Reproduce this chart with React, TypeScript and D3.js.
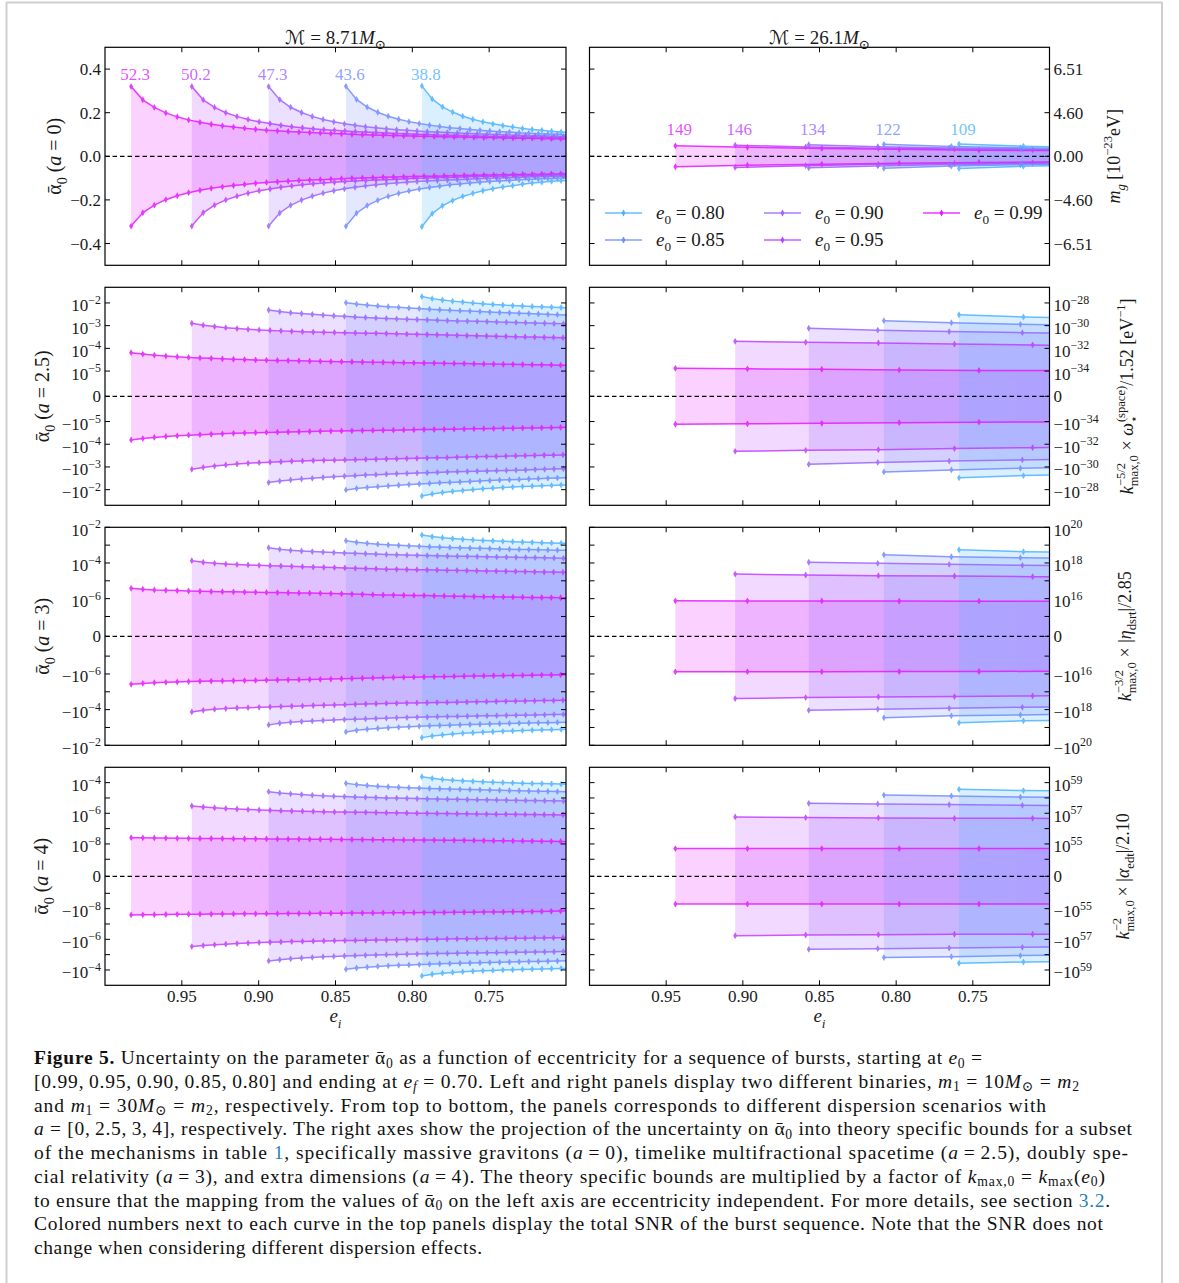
import React from 'react';
import * as d3 from 'd3';

const W = 1179, H = 1283;
const FONT = "'Liberation Serif','DejaVu Serif','DejaVu Sans',serif";
const INK = '#1a1a1a';

// ---------- categories / styling keys ----------
const E0_LABELS = ['0.99', '0.95', '0.90', '0.85', '0.80'];
const CURVE_COLORS = ['#e61aff', '#bf40ff', '#9966ff', '#738cff', '#4db3ff'];
const SNR_LEFT = ['52.3', '50.2', '47.3', '43.6', '38.8'];
const SNR_RIGHT = ['149', '146', '134', '122', '109'];
const X_TICKS = [0.95, 0.9, 0.85, 0.8, 0.75];
const X_TICK_LABELS = ['0.95', '0.90', '0.85', '0.80', '0.75'];

// ---------- eccentricities of the bursts (left binary) ----------
const eL099 = [0.9830, 0.9754, 0.9679, 0.9604, 0.9530, 0.9456, 0.9382, 0.9309, 0.9236, 0.9164, 0.9092, 0.9020, 0.8949, 0.8878, 0.8808, 0.8738, 0.8668, 0.8599, 0.8530, 0.8461, 0.8393, 0.8325, 0.8257, 0.8190, 0.8123, 0.8056, 0.7990, 0.7924, 0.7858, 0.7793, 0.7728, 0.7663, 0.7599, 0.7535, 0.7471, 0.7408, 0.7345, 0.7282, 0.7220, 0.7158, 0.7096, 0.7035, 0.6974];
const eL095 = [0.9435, 0.9361, 0.9287, 0.9214, 0.9141, 0.9069, 0.8997, 0.8926, 0.8855, 0.8785, 0.8715, 0.8645, 0.8576, 0.8507, 0.8439, 0.8371, 0.8303, 0.8236, 0.8169, 0.8102, 0.8036, 0.7970, 0.7904, 0.7839, 0.7774, 0.7709, 0.7645, 0.7581, 0.7517, 0.7454, 0.7391, 0.7328, 0.7266, 0.7204, 0.7142, 0.7081, 0.7020, 0.6959];
const eL090 = [0.8935, 0.8863, 0.8792, 0.8721, 0.8651, 0.8581, 0.8511, 0.8442, 0.8373, 0.8305, 0.8237, 0.8169, 0.8102, 0.8035, 0.7969, 0.7903, 0.7837, 0.7772, 0.7707, 0.7642, 0.7578, 0.7514, 0.7451, 0.7388, 0.7325, 0.7263, 0.7201, 0.7139, 0.7078, 0.7017, 0.6956];
const eL085 = [0.8432, 0.8363, 0.8294, 0.8225, 0.8157, 0.8089, 0.8022, 0.7955, 0.7888, 0.7822, 0.7756, 0.7690, 0.7625, 0.7560, 0.7496, 0.7432, 0.7368, 0.7305, 0.7242, 0.7180, 0.7118, 0.7056, 0.6995];
const eL080 = [0.7938, 0.7871, 0.7804, 0.7738, 0.7672, 0.7606, 0.7541, 0.7476, 0.7411, 0.7347, 0.7283, 0.7220, 0.7157, 0.7094, 0.7032, 0.6970];

// ---------- eccentricities of the bursts (right binary) ----------
const eR099 = [0.944, 0.897, 0.8485, 0.798, 0.746, 0.692];
const eR095 = [0.905, 0.859, 0.8116, 0.762, 0.711, 0.658];
const eR090 = [0.857, 0.812, 0.7654, 0.7177, 0.668];
const eR085 = [0.808, 0.764, 0.719, 0.672];
const eR080 = [0.759, 0.717, 0.673];

// ---------- a = 0 : 1-sigma on alpha0 (linear) ----------
const sA0L099 = [0.320, 0.259, 0.224, 0.199, 0.181, 0.167, 0.156, 0.147, 0.140, 0.134, 0.129, 0.124, 0.120, 0.117, 0.114, 0.111, 0.109, 0.107, 0.105, 0.103, 0.101, 0.099, 0.098, 0.096, 0.095, 0.094, 0.093, 0.092, 0.091, 0.090, 0.089, 0.088, 0.087, 0.086, 0.086, 0.085, 0.084, 0.083, 0.083, 0.082, 0.081, 0.081, 0.080];
const sA0L095 = [0.320, 0.259, 0.224, 0.200, 0.183, 0.169, 0.158, 0.150, 0.142, 0.136, 0.131, 0.126, 0.122, 0.119, 0.116, 0.113, 0.111, 0.109, 0.107, 0.105, 0.103, 0.101, 0.100, 0.098, 0.097, 0.096, 0.094, 0.093, 0.092, 0.091, 0.090, 0.089, 0.088, 0.088, 0.087, 0.086, 0.086, 0.085];
const sA0L090 = [0.320, 0.260, 0.225, 0.201, 0.183, 0.169, 0.158, 0.149, 0.142, 0.136, 0.131, 0.126, 0.122, 0.119, 0.116, 0.113, 0.111, 0.109, 0.107, 0.105, 0.103, 0.101, 0.100, 0.098, 0.097, 0.095, 0.094, 0.093, 0.092, 0.091, 0.090];
const sA0L085 = [0.321, 0.261, 0.226, 0.202, 0.184, 0.170, 0.159, 0.150, 0.143, 0.137, 0.131, 0.127, 0.123, 0.119, 0.116, 0.113, 0.111, 0.108, 0.106, 0.104, 0.102, 0.101, 0.099];
const sA0L080 = [0.323, 0.263, 0.227, 0.203, 0.184, 0.170, 0.158, 0.149, 0.141, 0.135, 0.128, 0.123, 0.119, 0.115, 0.112, 0.109];
const sA0R099 = [0.048, 0.041, 0.036, 0.032, 0.028, 0.026];
const sA0R095 = [0.051, 0.043, 0.037, 0.033, 0.030, 0.027];
const sA0R090 = [0.053, 0.044, 0.038, 0.034, 0.031];
const sA0R085 = [0.055, 0.045, 0.039, 0.035];
const sA0R080 = [0.056, 0.046, 0.040];

// ---------- a = 2.5 : log10 of 1-sigma ----------
const lgA25L099 = [-4.19, -4.25, -4.30, -4.34, -4.37, -4.40, -4.42, -4.44, -4.46, -4.48, -4.495, -4.51, -4.52, -4.53, -4.54, -4.55, -4.56, -4.57, -4.58, -4.585, -4.59, -4.60, -4.61, -4.615, -4.62, -4.63, -4.635, -4.645, -4.65, -4.66, -4.665, -4.67, -4.68, -4.685, -4.69, -4.70, -4.705, -4.71, -4.72, -4.725, -4.73, -4.74, -4.745];
const lgA25L095 = [-2.895, -2.98, -3.04, -3.09, -3.13, -3.16, -3.19, -3.21, -3.23, -3.25, -3.265, -3.28, -3.29, -3.30, -3.31, -3.32, -3.33, -3.34, -3.35, -3.36, -3.37, -3.38, -3.39, -3.40, -3.41, -3.425, -3.435, -3.445, -3.455, -3.465, -3.475, -3.485, -3.495, -3.505, -3.515, -3.52, -3.53, -3.54];
const lgA25L090 = [-2.31, -2.38, -2.43, -2.47, -2.50, -2.535, -2.565, -2.59, -2.615, -2.64, -2.66, -2.68, -2.70, -2.715, -2.73, -2.745, -2.76, -2.775, -2.79, -2.80, -2.81, -2.82, -2.835, -2.845, -2.86, -2.87, -2.885, -2.895, -2.91, -2.92, -2.93];
const lgA25L085 = [-1.99, -2.05, -2.09, -2.13, -2.165, -2.195, -2.225, -2.25, -2.275, -2.30, -2.32, -2.34, -2.36, -2.38, -2.40, -2.42, -2.435, -2.45, -2.47, -2.485, -2.50, -2.515, -2.53];
const lgA25L080 = [-1.72, -1.81, -1.87, -1.92, -1.96, -2.00, -2.035, -2.065, -2.09, -2.115, -2.135, -2.155, -2.17, -2.185, -2.20, -2.215];
const lgA25R099 = [-4.88, -4.90, -4.92, -4.95, -4.97, -4.98];
const lgA25R095 = [-3.69, -3.73, -3.76, -3.81, -3.85, -3.89];
const lgA25R090 = [-3.115, -3.20, -3.26, -3.31, -3.35];
const lgA25R085 = [-2.78, -2.87, -2.94, -2.99];
const lgA25R080 = [-2.52, -2.62, -2.68];

// ---------- a = 3 : log10 of 1-sigma ----------
const lgA3L099 = [-5.42, -5.47, -5.51, -5.53, -5.55, -5.57, -5.585, -5.60, -5.61, -5.62, -5.63, -5.64, -5.65, -5.66, -5.67, -5.68, -5.69, -5.70, -5.715, -5.73, -5.745, -5.76, -5.775, -5.79, -5.80, -5.81, -5.82, -5.83, -5.84, -5.85, -5.86, -5.87, -5.88, -5.89, -5.90, -5.905, -5.91, -5.92, -5.93, -5.935, -5.94, -5.95, -5.955];
const lgA3L095 = [-3.87, -3.96, -4.02, -4.06, -4.09, -4.11, -4.13, -4.15, -4.17, -4.19, -4.21, -4.23, -4.245, -4.26, -4.28, -4.30, -4.315, -4.33, -4.345, -4.355, -4.365, -4.375, -4.385, -4.395, -4.405, -4.415, -4.425, -4.435, -4.445, -4.455, -4.465, -4.475, -4.485, -4.495, -4.505, -4.51, -4.52, -4.53];
const lgA3L090 = [-3.145, -3.235, -3.29, -3.33, -3.36, -3.39, -3.415, -3.44, -3.46, -3.48, -3.50, -3.52, -3.54, -3.555, -3.57, -3.585, -3.60, -3.61, -3.62, -3.63, -3.64, -3.65, -3.66, -3.67, -3.68, -3.69, -3.70, -3.71, -3.72, -3.73, -3.74];
const lgA3L085 = [-2.75, -2.84, -2.90, -2.945, -2.98, -3.01, -3.04, -3.065, -3.09, -3.11, -3.13, -3.15, -3.165, -3.18, -3.195, -3.21, -3.225, -3.24, -3.25, -3.26, -3.27, -3.28, -3.29];
const lgA3L080 = [-2.43, -2.52, -2.58, -2.63, -2.67, -2.705, -2.735, -2.76, -2.785, -2.805, -2.825, -2.845, -2.86, -2.875, -2.89, -2.905];
const lgA3R099 = [-6.12, -6.13, -6.13, -6.135, -6.14, -6.15];
const lgA3R095 = [-4.62, -4.675, -4.71, -4.73, -4.77, -4.79];
const lgA3R090 = [-3.96, -4.02, -4.075, -4.13, -4.17];
const lgA3R085 = [-3.54, -3.65, -3.705, -3.75];
const lgA3R080 = [-3.26, -3.37, -3.42];

// ---------- a = 4 : log10 of 1-sigma ----------
const lgA4L099 = [-7.59, -7.60, -7.61, -7.62, -7.63, -7.635, -7.64, -7.645, -7.65, -7.655, -7.66, -7.665, -7.67, -7.675, -7.68, -7.685, -7.69, -7.695, -7.70, -7.705, -7.71, -7.715, -7.72, -7.725, -7.73, -7.735, -7.74, -7.745, -7.75, -7.755, -7.76, -7.765, -7.77, -7.78, -7.785, -7.79, -7.80, -7.805, -7.81, -7.82, -7.83, -7.84, -7.85];
const lgA4L095 = [-5.525, -5.59, -5.64, -5.68, -5.72, -5.755, -5.785, -5.81, -5.83, -5.85, -5.865, -5.88, -5.895, -5.91, -5.92, -5.93, -5.94, -5.95, -5.96, -5.97, -5.98, -5.99, -6.00, -6.01, -6.02, -6.03, -6.035, -6.04, -6.05, -6.055, -6.06, -6.07, -6.075, -6.085, -6.09, -6.10, -6.11, -6.115];
const lgA4L090 = [-4.59, -4.67, -4.73, -4.78, -4.82, -4.855, -4.885, -4.91, -4.935, -4.955, -4.975, -4.995, -5.01, -5.025, -5.04, -5.055, -5.07, -5.08, -5.09, -5.10, -5.11, -5.12, -5.13, -5.14, -5.15, -5.16, -5.17, -5.18, -5.19, -5.20, -5.21];
const lgA4L085 = [-4.045, -4.13, -4.18, -4.23, -4.27, -4.30, -4.33, -4.355, -4.38, -4.40, -4.42, -4.44, -4.455, -4.47, -4.485, -4.50, -4.515, -4.53, -4.545, -4.56, -4.57, -4.585, -4.595];
const lgA4L080 = [-3.61, -3.72, -3.79, -3.84, -3.88, -3.915, -3.945, -3.97, -3.995, -4.015, -4.035, -4.05, -4.065, -4.08, -4.095, -4.11];
const lgA4R099 = [-8.30, -8.30, -8.30, -8.30, -8.30, -8.30];
const lgA4R095 = [-6.24, -6.28, -6.30, -6.33, -6.33, -6.35];
const lgA4R090 = [-5.35, -5.39, -5.43, -5.48, -5.51];
const lgA4R085 = [-4.81, -4.87, -4.94, -4.98];
const lgA4R080 = [-4.44, -4.52, -4.56];

// ---------- y tick values / labels ----------
const YT0 = [0.4, 0.2, 0, -0.2, -0.4];
const YL0_L = ['0.4', '0.2', '0.0', '−0.2', '−0.4'];
const YL0_R = ['6.51', '4.60', '0.00', '−4.60', '−6.51'];
const YT1 = [1e-2, 1e-3, 1e-4, 1e-5, 0, -1e-5, -1e-4, -1e-3, -1e-2];
const YL1_L = ['10^−2', '10^−3', '10^−4', '10^−5', '0', '−10^−5', '−10^−4', '−10^−3', '−10^−2'];
const YL1_R = ['10^−28', '10^−30', '10^−32', '10^−34', '0', '−10^−34', '−10^−32', '−10^−30', '−10^−28'];
const YT2 = [1e-2, 1e-3, 1e-4, 1e-5, 1e-6, 1e-7, 0, -1e-7, -1e-6, -1e-5, -1e-4, -1e-3, -1e-2];
const YL2_L = ['10^−2', '', '10^−4', '', '10^−6', '', '0', '', '−10^−6', '', '−10^−4', '', '−10^−2'];
const YL2_R = ['10^20', '', '10^18', '', '10^16', '', '0', '', '−10^16', '', '−10^18', '', '−10^20'];
const YT3 = [1e-4, 1e-5, 1e-6, 1e-7, 1e-8, 1e-9, 0, -1e-9, -1e-8, -1e-7, -1e-6, -1e-5, -1e-4];
const YL3_L = ['10^−4', '', '10^−6', '', '10^−8', '', '0', '', '−10^−8', '', '−10^−6', '', '−10^−4'];
const YL3_R = ['10^59', '', '10^57', '', '10^55', '', '0', '', '−10^55', '', '−10^57', '', '−10^59'];

// ---------- assembled tables ----------
const E_SETS = [[eL099, eL095, eL090, eL085, eL080], [eR099, eR095, eR090, eR085, eR080]];
const LOG_TO_VAL = (a: number[]) => a.map((v) => Math.pow(10, v));
const VALUES = [
  [[sA0L099, sA0L095, sA0L090, sA0L085, sA0L080], [sA0R099, sA0R095, sA0R090, sA0R085, sA0R080]],
  [[lgA25L099, lgA25L095, lgA25L090, lgA25L085, lgA25L080].map(LOG_TO_VAL), [lgA25R099, lgA25R095, lgA25R090, lgA25R085, lgA25R080].map(LOG_TO_VAL)],
  [[lgA3L099, lgA3L095, lgA3L090, lgA3L085, lgA3L080].map(LOG_TO_VAL), [lgA3R099, lgA3R095, lgA3R090, lgA3R085, lgA3R080].map(LOG_TO_VAL)],
  [[lgA4L099, lgA4L095, lgA4L090, lgA4L085, lgA4L080].map(LOG_TO_VAL), [lgA4R099, lgA4R095, lgA4R090, lgA4R085, lgA4R080].map(LOG_TO_VAL)],
];

type RowCfg = { kind: 'lin' | 'sym'; lim: number; lt: number; ticks: number[]; left: string[]; right: string[] };
const ROWS: RowCfg[] = [
  { kind: 'lin', lim: 0.5, lt: 0, ticks: YT0, left: YL0_L, right: YL0_R },
  { kind: 'sym', lim: 4.8, lt: 1e-5, ticks: YT1, left: YL1_L, right: YL1_R },
  { kind: 'sym', lim: 1e-2, lt: 1e-7, ticks: YT2, left: YL2_L, right: YL2_R },
  { kind: 'sym', lim: 1e-3, lt: 1e-9, ticks: YT3, left: YL3_L, right: YL3_R },
];

// ---------- layout ----------
const PANEL_X = [[105, 566], [589.5, 1049.5]];
const ROW_TOP = [47.3, 287.3, 527.3, 767.3];
const ROW_H = 218;
const TICK = 5;
const TFS = 17;

const LINSCALE = 1 / (1 - 1 / 10);
function symD(v: number, lt: number) {
  const a = Math.abs(v);
  const d = a <= lt ? (a / lt) * LINSCALE : LINSCALE + Math.log10(a / lt);
  return Math.sign(v) * d;
}

type Seg = { t: string; it?: boolean; b?: boolean; sub?: boolean; sup?: boolean; c?: string; dx?: number };
function segs(list: Seg[], fs: number, subK = 0.28) {
  let shift = 0;
  return list.map((s, i) => {
    const target = s.sub ? fs * subK : s.sup ? -fs * 0.42 : 0;
    const dy = target - shift;
    shift = target;
    return (
      <tspan key={i} dy={dy} dx={s.dx || 0} fontStyle={s.it ? 'italic' : 'normal'} fontWeight={s.b ? 'bold' : 'normal'}
        fontSize={s.sub || s.sup ? fs * 0.7 : fs} fill={s.c || undefined}>{s.t}</tspan>
    );
  });
}

function tickLabel(s: string, fs: number) {
  if (s.indexOf('^') < 0) return [<tspan key="a">{s}</tspan>];
  const [base, exp] = s.split('^');
  return [
    <tspan key="a">{base}</tspan>,
    <tspan key="b" dy={-7.5} fontSize={fs * 0.7}>{exp}</tspan>,
  ];
}

type P = { e: number; v: number };

function Panel({ side, row }: { side: number; row: number }) {
  const [x0, x1] = PANEL_X[side];
  const top = ROW_TOP[row];
  const bot = top + ROW_H;
  const cfg = ROWS[row];
  const x = d3.scaleLinear().domain([1.0, 0.7]).range([x0, x1]);
  let y: (v: number) => number;
  if (cfg.kind === 'lin') {
    const s = d3.scaleLinear().domain([-cfg.lim, cfg.lim]).range([bot, top]);
    y = (v) => s(v);
  } else {
    const dmax = row === 1 ? cfg.lim : symD(cfg.lim, cfg.lt);
    const s = d3.scaleLinear().domain([-dmax, dmax]).range([bot, top]);
    y = (v) => s(symD(v, cfg.lt));
  }
  const clipId = `clip-${side}-${row}`;
  const curves = E_SETS[side].map((es, c) => es.map((e, i) => ({ e, v: VALUES[row][side][c][i] } as P)));
  const area = d3.area<P>().x((p) => x(p.e)).y0((p) => y(-p.v)).y1((p) => y(p.v));
  const up = d3.line<P>().x((p) => x(p.e)).y((p) => y(p.v));
  const dn = d3.line<P>().x((p) => x(p.e)).y((p) => y(-p.v));
  const diamond = (cx: number, cy: number) => `M${cx},${cy - 3.4}L${cx + 2},${cy}L${cx},${cy + 3.4}L${cx - 2},${cy}Z`;
  const y0 = y(0);

  return (
    <g>
      <defs>
        <clipPath id={clipId}><rect x={x0} y={top} width={x1 - x0} height={ROW_H} /></clipPath>
      </defs>
      <g clipPath={`url(#${clipId})`}>
        {curves.map((pts, c) => (
          <path key={'f' + c} d={area(pts) || ''} fill={CURVE_COLORS[c]} fillOpacity={0.2} stroke="none" />
        ))}
        {curves.map((pts, c) => (
          <g key={'l' + c} opacity={0.85}>
            <path d={up(pts) || ''} fill="none" stroke={CURVE_COLORS[c]} strokeWidth={1.5} />
            <path d={dn(pts) || ''} fill="none" stroke={CURVE_COLORS[c]} strokeWidth={1.5} />
            {pts.map((p, i) => (
              <g key={i} fill={CURVE_COLORS[c]}>
                <path d={diamond(x(p.e), y(p.v))} />
                <path d={diamond(x(p.e), y(-p.v))} />
              </g>
            ))}
          </g>
        ))}
        <line x1={x0} x2={x1} y1={y0} y2={y0} stroke="#000" strokeWidth={1.2} strokeDasharray="4.5,3" />
      </g>
      <rect x={x0} y={top} width={x1 - x0} height={ROW_H} fill="none" stroke="#000" strokeWidth={1.2} />
      {X_TICKS.map((t, i) => (
        <g key={'xt' + i} stroke="#000" strokeWidth={1}>
          <line x1={x(t)} x2={x(t)} y1={top} y2={top + TICK} />
          <line x1={x(t)} x2={x(t)} y1={bot} y2={bot - TICK} />
        </g>
      ))}
      {row === 3 && X_TICKS.map((t, i) => (
        <text key={'xl' + i} x={x(t)} y={bot + 17} textAnchor="middle" fontSize={TFS} fontFamily={FONT} fill={INK}>{X_TICK_LABELS[i]}</text>
      ))}
      {row === 3 && (
        <text x={(x0 + x1) / 2} y={bot + 37} textAnchor="middle" fontSize={19} fontFamily={FONT} fill={INK}>
          {segs([{ t: 'e', it: true }, { t: 'i', it: true, sub: true }], 19)}
        </text>
      )}
      {cfg.ticks.map((t, i) => {
        const ty = y(t);
        return (
          <g key={'yt' + i} stroke="#000" strokeWidth={1}>
            <line x1={x0} x2={x0 + TICK} y1={ty} y2={ty} />
            <line x1={x1} x2={x1 - TICK} y1={ty} y2={ty} />
          </g>
        );
      })}
      {cfg.ticks.map((t, i) => {
        const lab = side === 0 ? cfg.left[i] : cfg.right[i];
        if (!lab) return null;
        const ty = y(t) + (lab.indexOf('^') >= 0 ? 8.5 : 6);
        return side === 0 ? (
          <text key={'yl' + i} x={x0 - 4} y={ty} textAnchor="end" fontSize={TFS} fontFamily={FONT} fill={INK}>{tickLabel(lab, TFS)}</text>
        ) : (
          <text key={'yl' + i} x={x1 + 4} y={ty} textAnchor="start" fontSize={TFS} fontFamily={FONT} fill={INK}>{tickLabel(lab, TFS)}</text>
        );
      })}
      {row === 0 && curves.map((pts, c) => (
        <text key={'snr' + c} x={x(pts[0].e) + 4} y={side === 0 ? 80 : 135} textAnchor="middle" fontSize={TFS} fontFamily={FONT}
          fill={CURVE_COLORS[c]} fillOpacity={0.8}>{side === 0 ? SNR_LEFT[c] : SNR_RIGHT[c]}</text>
      ))}
    </g>
  );
}

const LEFT_LABELS: Seg[][] = [
  [{ t: 'ᾱ' }, { t: '0', sub: true }, { t: ' (' }, { t: 'a', it: true }, { t: ' = 0)' }],
  [{ t: 'ᾱ' }, { t: '0', sub: true }, { t: ' (' }, { t: 'a', it: true }, { t: ' = 2.5)' }],
  [{ t: 'ᾱ' }, { t: '0', sub: true }, { t: ' (' }, { t: 'a', it: true }, { t: ' = 3)' }],
  [{ t: 'ᾱ' }, { t: '0', sub: true }, { t: ' (' }, { t: 'a', it: true }, { t: ' = 4)' }],
];
const LEFT_LABEL_X = [61, 49, 49, 48];
const RIGHT_LABELS: Seg[][] = [
  [{ t: 'm', it: true }, { t: 'g', it: true, sub: true }, { t: ' [10' }, { t: '−23', sup: true }, { t: 'eV]' }],
  [{ t: 'k', it: true }, { t: 'max,0', sub: true }, { t: '−5/2', sup: true, dx: -31 }, { t: ' × ', dx: 8 }, { t: 'ω', it: true }, { t: '⋆', sub: true },
   { t: '(space)', sup: true, dx: -7 }, { t: '/1.52 [eV' }, { t: '−1', sup: true }, { t: ']' }],
  [{ t: 'k', it: true }, { t: 'max,0', sub: true }, { t: '−3/2', sup: true, dx: -31 }, { t: ' × |', dx: 8 }, { t: 'η', it: true }, { t: 'dsrt', sub: true }, { t: '|/2.85' }],
  [{ t: 'k', it: true }, { t: 'max,0', sub: true }, { t: '−2', sup: true, dx: -31 }, { t: ' × |', dx: 17 }, { t: 'α', it: true }, { t: 'edt', sub: true }, { t: '|/2.10' }],
];
const RIGHT_LABEL_X = [1120, 1133, 1131, 1129];

const TITLES: Seg[][] = [
  [{ t: 'ℳ' }, { t: ' = 8.71' }, { t: 'M', it: true }, { t: '⊙', sub: true }],
  [{ t: 'ℳ' }, { t: ' = 26.1' }, { t: 'M', it: true }, { t: '⊙', sub: true }],
];

const LEGEND_ORDER = [4, 3, 2, 1, 0];
const LEGEND_POS = [[605, 213], [605, 240], [764, 213], [764, 240], [923, 213]];

const BLUE = '#2a7fb8';
const CAPTION: Seg[][] = [
  [{ t: 'Figure 5.', b: true }, { t: ' Uncertainty on the parameter ' }, { t: 'ᾱ' }, { t: '0', sub: true }, { t: ' as a function of eccentricity for a sequence of bursts, starting at ' }, { t: 'e', it: true }, { t: '0', sub: true }, { t: ' =' }],
  [{ t: '[0.99,\u20090.95,\u20090.90,\u20090.85,\u20090.80] and ending at ' }, { t: 'e', it: true }, { t: 'f', it: true, sub: true }, { t: ' = 0.70. Left and right panels display two different binaries, ' }, { t: 'm', it: true }, { t: '1', sub: true }, { t: ' = 10' }, { t: 'M', it: true }, { t: '⊙', sub: true }, { t: ' = ' }, { t: 'm', it: true }, { t: '2', sub: true }],
  [{ t: 'and ' }, { t: 'm', it: true }, { t: '1', sub: true }, { t: ' = 30' }, { t: 'M', it: true }, { t: '⊙', sub: true }, { t: ' = ' }, { t: 'm', it: true }, { t: '2', sub: true }, { t: ', respectively. From top to bottom, the panels corresponds to different dispersion scenarios with' }],
  [{ t: 'a', it: true }, { t: ' = [0,\u20092.5,\u20093,\u20094], respectively. The right axes show the projection of the uncertainty on ' }, { t: 'ᾱ' }, { t: '0', sub: true }, { t: ' into theory specific bounds for a subset' }],
  [{ t: 'of the mechanisms in table ' }, { t: '1', c: BLUE }, { t: ', specifically massive gravitons (' }, { t: 'a', it: true }, { t: '\u2009=\u20090), timelike multifractional spacetime (' }, { t: 'a', it: true }, { t: '\u2009=\u20092.5), doubly spe-' }],
  [{ t: 'cial relativity (' }, { t: 'a', it: true }, { t: '\u2009=\u20093), and extra dimensions (' }, { t: 'a', it: true }, { t: '\u2009=\u20094). The theory specific bounds are multiplied by a factor of ' }, { t: 'k', it: true }, { t: 'max,0', sub: true }, { t: ' = ' }, { t: 'k', it: true }, { t: 'max', sub: true }, { t: '(' }, { t: 'e', it: true }, { t: '0', sub: true }, { t: ')' }],
  [{ t: 'to ensure that the mapping from the values of ' }, { t: 'ᾱ' }, { t: '0', sub: true }, { t: ' on the left axis are eccentricity independent. For more details, see section ' }, { t: '3.2', c: BLUE }, { t: '.' }],
  [{ t: 'Colored numbers next to each curve in the top panels display the total SNR of the burst sequence. Note that the SNR does not' }],
  [{ t: 'change when considering different dispersion effects.' }],
];
const CAPTION_WIDTHS = [948, 1045, 1012, 1098, 1094, 1071, 1076, 1069, 448];

export default function App() {
  const rows = [0, 1, 2, 3];
  return (
    <div style={{ position: 'absolute', left: 0, top: 0 }}>
      <svg width={W} height={H} viewBox={`0 0 ${W} ${H}`} style={{ display: 'block', background: '#fff' }}>
        <rect x={0} y={0} width={W} height={H} fill="#fff" />
        <g stroke="#cfcfcf" strokeWidth={2} fill="none">
          <line x1={6.5} x2={6.5} y1={2} y2={H} />
          <line x1={1162} x2={1162} y1={2} y2={H} />
          <line x1={6.5} x2={1162} y1={2.5} y2={2.5} />
        </g>
        {rows.map((r) => (
          <g key={r}>
            <Panel side={0} row={r} />
            <Panel side={1} row={r} />
          </g>
        ))}
        {TITLES.map((t, i) => (
          <text key={'t' + i} x={(PANEL_X[i][0] + PANEL_X[i][1]) / 2} y={44} textAnchor="middle" fontSize={19} fontFamily={FONT} fill={INK}>{segs(t, 19)}</text>
        ))}
        {rows.map((r) => (
          <text key={'ll' + r} transform={`translate(${LEFT_LABEL_X[r]},${ROW_TOP[r] + ROW_H / 2}) rotate(-90)`} textAnchor="middle" fontSize={20} fontFamily={FONT} fill={INK}>
            {segs(LEFT_LABELS[r], 20)}
          </text>
        ))}
        {rows.map((r) => (
          <text key={'rl' + r} transform={`translate(${RIGHT_LABEL_X[r]},${ROW_TOP[r] + ROW_H / 2}) rotate(-90)`} textAnchor="middle" fontSize={18} fontFamily={FONT} fill={INK}>
            {segs(RIGHT_LABELS[r], 18)}
          </text>
        ))}
        {LEGEND_ORDER.map((c, k) => {
          const [lx, ly] = LEGEND_POS[k];
          return (
            <g key={'lg' + c}>
              <line x1={lx} x2={lx + 37} y1={ly} y2={ly} stroke={CURVE_COLORS[c]} strokeWidth={1.5} opacity={0.85} />
              <path d={`M${lx + 18.5},${ly - 3.4}L${lx + 20.5},${ly}L${lx + 18.5},${ly + 3.4}L${lx + 16.5},${ly}Z`} fill={CURVE_COLORS[c]} />
              <text x={lx + 51} y={ly + 6} fontSize={19} fontFamily={FONT} fill={INK}>
                {segs([{ t: 'e', it: true }, { t: '0', sub: true }, { t: ' = ' + E0_LABELS[c] }], 19)}
              </text>
            </g>
          );
        })}
        {CAPTION.map((line, i) => (
          <text key={'c' + i} x={34} y={1064 + 23.75 * i} fontSize={19.5} fontFamily={FONT} fill="#111"
            textLength={CAPTION_WIDTHS[i]} lengthAdjust="spacing">{segs(line, 19.5, 0.18)}</text>
        ))}
      </svg>
    </div>
  );
}
